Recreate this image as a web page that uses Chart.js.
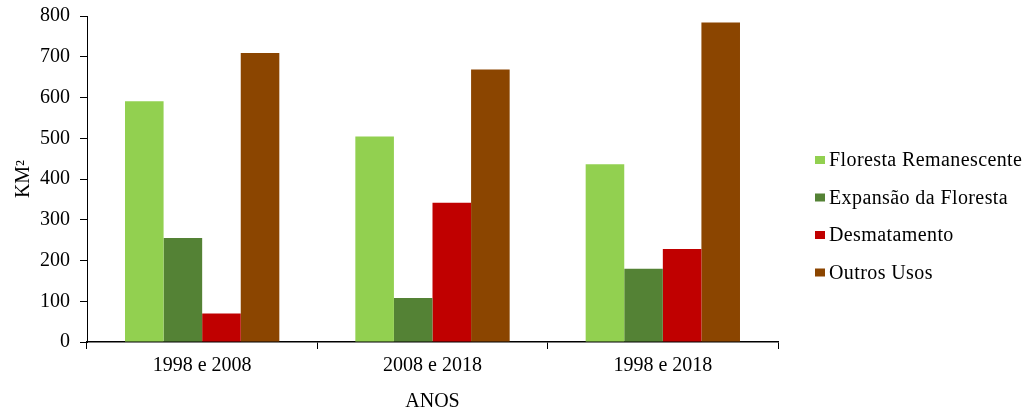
<!DOCTYPE html>
<html>
<head>
<meta charset="utf-8">
<script src="https://cdn.jsdelivr.net/npm/chart.js@4/dist/chart.umd.min.js"></script>
<style>
  html, body { margin: 0; padding: 0; background: #fff; }
  #wrap { width: 1035px; height: 414px; position: relative; }
</style>
</head>
<body>
<div id="wrap"><canvas id="myChart"></canvas></div>
<script>
const categories = ["1998 e 2008", "2008 e 2018", "1998 e 2018"];
const florestaRemanescente = [591, 504, 436];
const expansaoFloresta = [255, 108, 180];
const desmatamento = [70, 342, 228];
const outrosUsos = [709, 669, 784];
const yTicks = [0, 100, 200, 300, 400, 500, 600, 700, 800];

const fontFamily = "'Liberation Serif', 'Times New Roman', serif";

// legend drawn by hand so it sits where the original one is
const sideLegend = {
  id: "sideLegend",
  afterDraw(chart) {
    const ctx = chart.ctx;
    ctx.save();
    ctx.font = "20px " + fontFamily;
    if ("letterSpacing" in ctx) ctx.letterSpacing = "0.4px";
    ctx.textBaseline = "middle";
    chart.data.datasets.forEach((ds, i) => {
      const y = 160 + i * 37.5;
      ctx.fillStyle = ds.backgroundColor;
      ctx.fillRect(815, y - 4, 10, 8);
      ctx.fillStyle = "#000";
      ctx.fillText(ds.label, 829, y + 1);
    });
    ctx.restore();
  },
};

const ctx = document.getElementById("myChart").getContext("2d");
const myChart = new Chart(ctx, {
  type: "bar",
  data: {
    labels: categories,
    datasets: [
      { label: "Floresta Remanescente", data: florestaRemanescente, backgroundColor: "#92D050" },
      { label: "Expansão da Floresta", data: expansaoFloresta, backgroundColor: "#548235" },
      { label: "Desmatamento", data: desmatamento, backgroundColor: "#C00000" },
      { label: "Outros Usos", data: outrosUsos, backgroundColor: "#8B4500" },
    ],
  },
  options: {
    responsive: true,
    maintainAspectRatio: false,
    animation: false,
    layout: { padding: { left: 0, right: 257, top: 0, bottom: 0 } },
    datasets: { bar: { categoryPercentage: 0.67, barPercentage: 1.0 } },
    plugins: {
      legend: { display: false },
      tooltip: { enabled: false },
    },
    scales: {
      x: {
        grid: {
          display: true,
          offset: true,
          drawOnChartArea: false,
          drawTicks: true,
          tickLength: 7,
          color: "#000",
        },
        border: { color: "#000", width: 1.5 },
        ticks: { color: "#000", font: { family: fontFamily, size: 20 }, padding: 5 },
        title: {
          display: true,
          text: "ANOS",
          color: "#000",
          font: { family: fontFamily, size: 20 },
          padding: { top: 7, bottom: 0 },
        },
      },
      y: {
        min: 0,
        max: 800,
        afterBuildTicks: (axis) => {
          axis.ticks = yTicks.map((v) => ({ value: v }));
        },
        grid: {
          display: true,
          drawOnChartArea: false,
          drawTicks: true,
          tickLength: 7,
          color: "#000",
        },
        border: { color: "#000", width: 1 },
        ticks: { color: "#000", font: { family: fontFamily, size: 20, lineHeight: 0.6 }, padding: 10 },
        title: {
          display: true,
          text: "KM²",
          color: "#000",
          font: { family: fontFamily, size: 20, lineHeight: 1 },
          padding: { top: 14, bottom: -4 },
        },
      },
    },
  },
  plugins: [sideLegend],
});
</script>
</body>
</html>
